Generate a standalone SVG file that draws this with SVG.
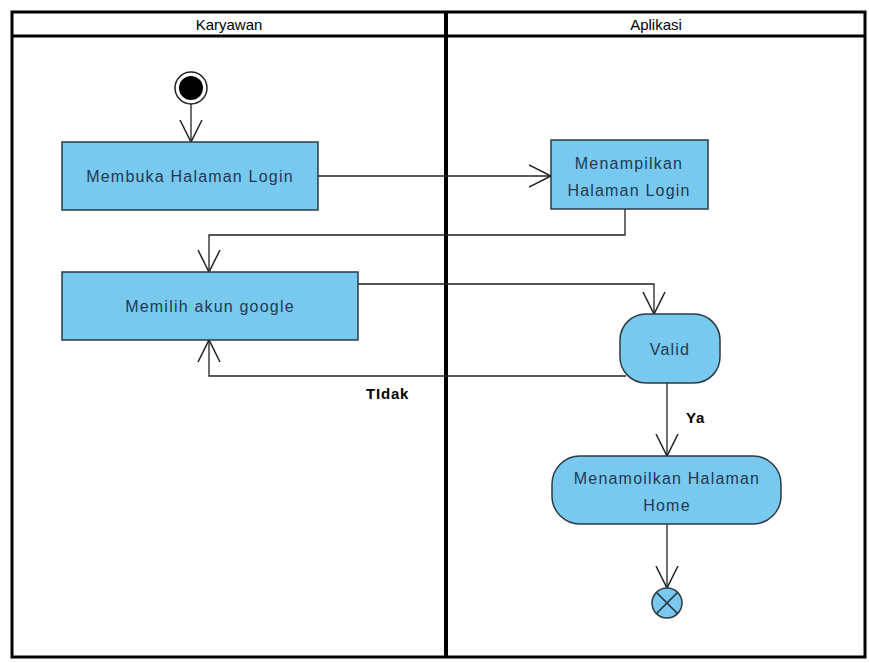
<svg xmlns="http://www.w3.org/2000/svg" width="869" height="663" viewBox="0 0 869 663">
<defs>
<style>
.lane{fill:none;stroke:#000;stroke-width:3}
.act{fill:#79C8EE;stroke:#2b3a44;stroke-width:1.5}
.txt{font-family:"Liberation Sans",Arial,sans-serif;font-size:16px;letter-spacing:1.2px;fill:#1d3a55;text-anchor:middle}
.hdr{font-family:"Liberation Sans",Arial,sans-serif;font-size:15px;fill:#000;text-anchor:middle}
.lbl{font-family:"Liberation Sans",Arial,sans-serif;font-size:15px;letter-spacing:0.8px;font-weight:bold;fill:#000}
.edge{fill:none;stroke:#222;stroke-width:1.3}
</style>
<marker id="arr" markerUnits="userSpaceOnUse" markerWidth="24" markerHeight="24" viewBox="0 0 24 24" refX="22" refY="12" orient="auto">
<path d="M0,1 L22,12 L0,23" fill="none" stroke="#222" stroke-width="1.5"/>
</marker>
</defs>
<rect width="869" height="663" fill="#fff"/>
<g id="swimlanes">
<rect class="lane" x="12" y="12" width="853" height="645"/>
<line class="lane" x1="12" y1="36" x2="865" y2="36"/>
<line x1="446" y1="12" x2="446" y2="657" stroke="#000" stroke-width="4"/>
<text class="hdr" x="229" y="30">Karyawan</text>
<text class="hdr" x="656" y="30">Aplikasi</text>
</g>
<g id="connectors">
<line class="edge" x1="191" y1="104" x2="191" y2="142" marker-end="url(#arr)"/>
<line class="edge" x1="318" y1="176" x2="551" y2="176" marker-end="url(#arr)"/>
<polyline class="edge" points="625,209 625,235 209,235 209,272" marker-end="url(#arr)"/>
<polyline class="edge" points="358,284 654,284 654,314" marker-end="url(#arr)"/>
<polyline class="edge" points="626,376 209,376 209,340" marker-end="url(#arr)"/>
<line class="edge" x1="667" y1="383" x2="667" y2="456" marker-end="url(#arr)"/>
<line class="edge" x1="667" y1="524" x2="667" y2="588" marker-end="url(#arr)"/>
<text class="lbl" x="366" y="399">TIdak</text>
<text class="lbl" x="686" y="423">Ya</text>
</g>
<g id="start">
<circle cx="191" cy="88" r="16" fill="#fff" stroke="#222" stroke-width="1.5"/>
<circle cx="191" cy="88" r="12" fill="#000"/>
</g>
<g id="membuka">
<rect class="act" x="62" y="142" width="256" height="68"/>
<text class="txt" x="190" y="182">Membuka Halaman Login</text>
</g>
<g id="menampilkan">
<rect class="act" x="551" y="140" width="157" height="69"/>
<text class="txt" x="629" y="169">Menampilkan</text>
<text class="txt" x="629" y="196">Halaman Login</text>
</g>
<g id="memilih">
<rect class="act" x="62" y="272" width="296" height="68"/>
<text class="txt" x="210" y="312">Memilih akun google</text>
</g>
<g id="valid">
<rect class="act" x="620" y="314" width="100" height="69" rx="26" ry="26"/>
<text class="txt" x="670" y="355">Valid</text>
</g>
<g id="home">
<rect class="act" x="552" y="456" width="229" height="68" rx="28" ry="28"/>
<text class="txt" x="667" y="484">Menamoilkan Halaman</text>
<text class="txt" x="667" y="511">Home</text>
</g>
<g id="end">
<circle cx="667" cy="603" r="15" fill="#79C8EE" stroke="#2b3a44" stroke-width="1.5"/>
<line x1="656.4" y1="592.4" x2="677.6" y2="613.6" stroke="#2b3a44" stroke-width="1.5"/>
<line x1="677.6" y1="592.4" x2="656.4" y2="613.6" stroke="#2b3a44" stroke-width="1.5"/>
</g>
</svg>
